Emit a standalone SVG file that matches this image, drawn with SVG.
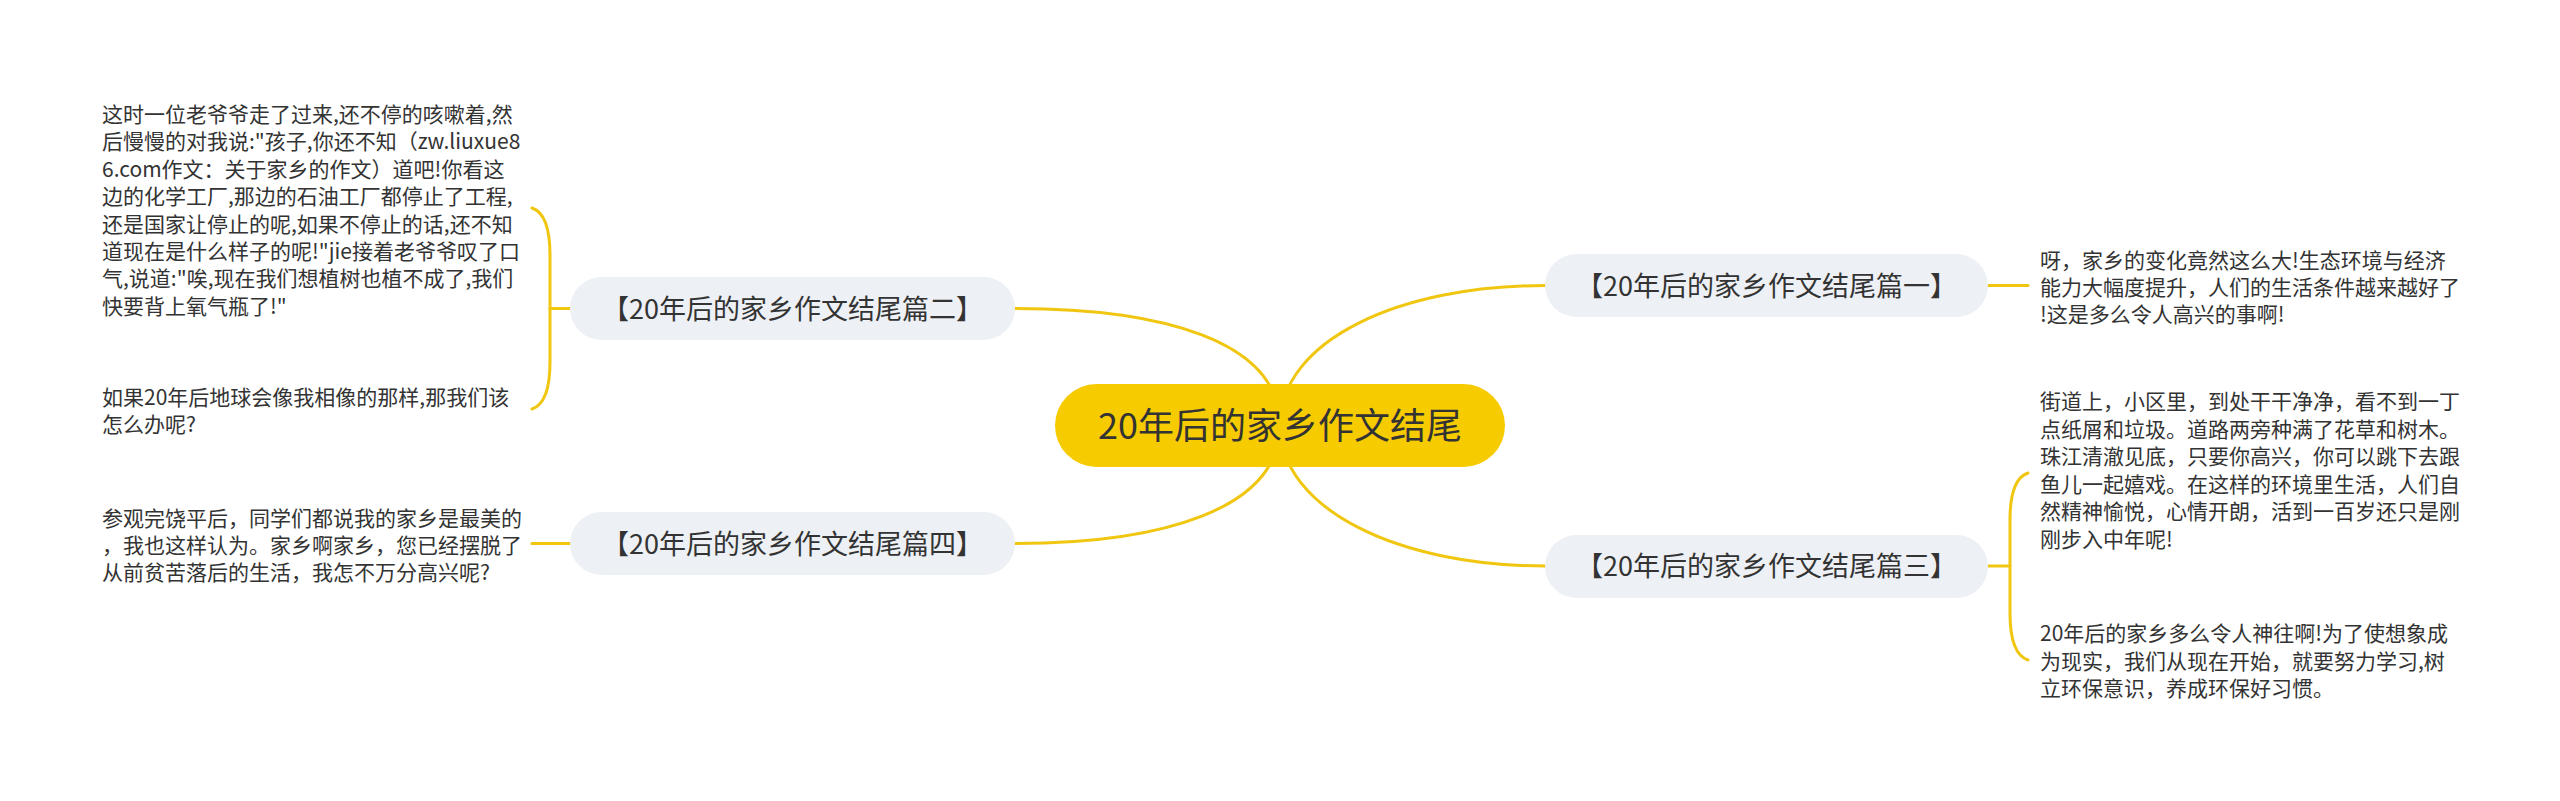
<svg xmlns="http://www.w3.org/2000/svg" width="2560" height="801" viewBox="0 0 2560 801">
<style>
.ln{fill:none;stroke:#F0C610;stroke-width:3;stroke-linecap:round}
.br{fill:#EDF0F4}
.bt{font-family:"Noto Sans CJK SC","Noto Sans",sans-serif;font-size:27px;fill:#333333;text-anchor:middle}
.lf{font-family:"Noto Sans CJK SC","Noto Sans",sans-serif;font-size:21px;fill:#333333}
.rt{font-family:"Noto Sans CJK SC","Noto Sans",sans-serif;font-size:36px;fill:#333333;text-anchor:middle}
</style>
<rect width="2560" height="801" fill="#FFFFFF"/>
<g id="connectors">
<path class="ln" d="M1280,425 C1280,340 1160,308.5 1015,308.5"/>
<path class="ln" d="M1280,425 C1280,510 1160,543.5 1015,543.5"/>
<path class="ln" d="M1280,425 C1280,340 1400,285.5 1545,285.5"/>
<path class="ln" d="M1280,425 C1280,510 1400,566 1545,566"/>
<path class="ln" d="M532,208 Q550,214 550,255 L550,362 Q550,403 532,409"/>
<path class="ln" d="M550,308.5 L570,308.5"/>
<path class="ln" d="M532,543.5 L570,543.5"/>
<path class="ln" d="M1988,285.5 L2028,285.5"/>
<path class="ln" d="M2028,473 Q2010,479 2010,520 L2010,613 Q2010,654 2028,660"/>
<path class="ln" d="M1988,566 L2010,566"/>
</g>
<g id="root">
<rect x="1055" y="384" width="450" height="83" rx="41.5" fill="#F6CB00"/>
<text class="rt" x="1280" y="439">20年后的家乡作文结尾</text>
</g>
<g id="b1">
<rect class="br" x="1545" y="254" width="443" height="63" rx="31.5"/>
<text class="bt" x="1766.5" y="295.5">【20年后的家乡作文结尾篇一】</text>
</g>
<g id="b2">
<rect class="br" x="570" y="277" width="445" height="63" rx="31.5"/>
<text class="bt" x="792.5" y="318.5">【20年后的家乡作文结尾篇二】</text>
</g>
<g id="b3">
<rect class="br" x="1545" y="535" width="443" height="63" rx="31.5"/>
<text class="bt" x="1766.5" y="576">【20年后的家乡作文结尾篇三】</text>
</g>
<g id="b4">
<rect class="br" x="570" y="512" width="445" height="63" rx="31.5"/>
<text class="bt" x="792.5" y="553.5">【20年后的家乡作文结尾篇四】</text>
</g>
<g id="l2a">
<text class="lf">
<tspan x="102" y="122">这时一位老爷爷走了过来,还不停的咳嗽着,然</tspan>
<tspan x="102" y="149.4">后慢慢的对我说:"孩子,你还不知（zw.liuxue8</tspan>
<tspan x="102" y="176.8">6.com作文：关于家乡的作文）道吧!你看这</tspan>
<tspan x="102" y="204.2">边的化学工厂,那边的石油工厂都停止了工程,</tspan>
<tspan x="102" y="231.6">还是国家让停止的呢,如果不停止的话,还不知</tspan>
<tspan x="102" y="259">道现在是什么样子的呢!"jie接着老爷爷叹了口</tspan>
<tspan x="102" y="286.4">气,说道:"唉,现在我们想植树也植不成了,我们</tspan>
<tspan x="102" y="313.8">快要背上氧气瓶了!"</tspan>
</text>
</g>
<g id="l2b">
<text class="lf">
<tspan x="102" y="405">如果20年后地球会像我相像的那样,那我们该</tspan>
<tspan x="102" y="432">怎么办呢?</tspan>
</text>
</g>
<g id="l4">
<text class="lf">
<tspan x="102" y="526">参观完饶平后，同学们都说我的家乡是最美的</tspan>
<tspan x="102" y="553">，我也这样认为。家乡啊家乡，您已经摆脱了</tspan>
<tspan x="102" y="580">从前贫苦落后的生活，我怎不万分高兴呢?</tspan>
</text>
</g>
<g id="l1">
<text class="lf">
<tspan x="2040" y="268">呀，家乡的变化竟然这么大!生态环境与经济</tspan>
<tspan x="2040" y="295">能力大幅度提升，人们的生活条件越来越好了</tspan>
<tspan x="2040" y="322">!这是多么令人高兴的事啊!</tspan>
</text>
</g>
<g id="l3a">
<text class="lf">
<tspan x="2040" y="409">街道上，小区里，到处干干净净，看不到一丁</tspan>
<tspan x="2040" y="436.6">点纸屑和垃圾。道路两旁种满了花草和树木。</tspan>
<tspan x="2040" y="464.2">珠江清澈见底，只要你高兴，你可以跳下去跟</tspan>
<tspan x="2040" y="491.8">鱼儿一起嬉戏。在这样的环境里生活，人们自</tspan>
<tspan x="2040" y="519.4">然精神愉悦，心情开朗，活到一百岁还只是刚</tspan>
<tspan x="2040" y="547">刚步入中年呢!</tspan>
</text>
</g>
<g id="l3b">
<text class="lf">
<tspan x="2040" y="641">20年后的家乡多么令人神往啊!为了使想象成</tspan>
<tspan x="2040" y="668.5">为现实，我们从现在开始，就要努力学习,树</tspan>
<tspan x="2040" y="696">立环保意识，养成环保好习惯。</tspan>
</text>
</g>
</svg>
